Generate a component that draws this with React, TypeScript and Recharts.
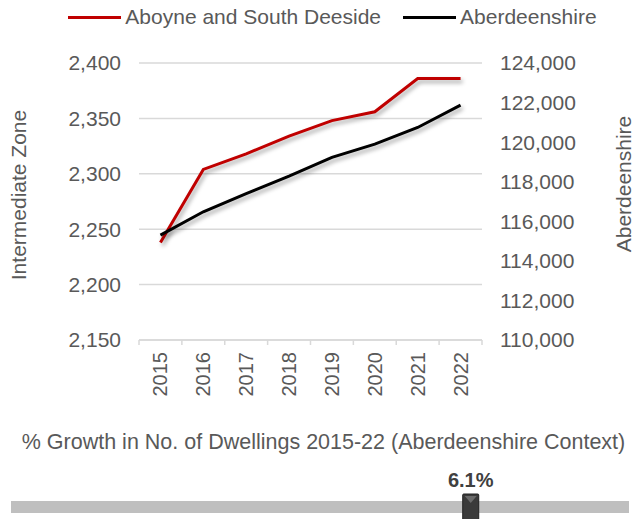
import React from 'react';
import {
  LineChart,
  Line,
  XAxis,
  YAxis,
  CartesianGrid,
  Legend,
  Label,
  ComposedChart,
  Bar,
  ReferenceDot,
} from 'recharts';

const years = ['2015', '2016', '2017', '2018', '2019', '2020', '2021', '2022'];
const aboyneDwellings = [2238, 2304, 2318, 2334, 2348, 2356, 2386, 2386];
const shireDwellings = [115300, 116480, 117400, 118280, 119230, 119900, 120740, 121870];
const leftTicks = [2150, 2200, 2250, 2300, 2350, 2400];
const rightTicks = [110000, 112000, 114000, 116000, 118000, 120000, 122000, 124000];

const growthPct = 6.1;
const gaugeMax = 8.2;

const FONT = '"Liberation Sans", Arial, sans-serif';
const TEXT = '#595959';
const GRID = '#d9d9d9';
const RED = '#c00000';
const HALF_BAND = 21.45;

const data = years.map((year, i) => ({
  year,
  aboyne: aboyneDwellings[i],
  shire: shireDwellings[i],
}));

const gaugeData = [{ name: 'g', v: gaugeMax }];

const shadow = { filter: 'drop-shadow(2px 3px 2px rgba(0,0,0,0.35))' };

// category label plus the little tick marks that sit between categories
function YearTick({ x, y, payload, index, visibleTicksCount }: any) {
  const last = index === visibleTicksCount - 1;
  return (
    <g>
      <line x1={x - HALF_BAND} x2={x - HALF_BAND} y1={y} y2={y + 5} stroke={GRID} strokeWidth={1.5} />
      {last && (
        <line x1={x + HALF_BAND} x2={x + HALF_BAND} y1={y} y2={y + 5} stroke={GRID} strokeWidth={1.5} />
      )}
      <text
        x={x}
        y={y + 12}
        dy="0.35em"
        transform={`rotate(-90 ${x} ${y + 12})`}
        textAnchor="end"
        fill={TEXT}
        fontSize={20}
        fontFamily={FONT}
      >
        {payload.value}
      </text>
    </g>
  );
}

function LegendBox() {
  const items = [
    { name: 'Aboyne and South Deeside', color: RED },
    { name: 'Aberdeenshire', color: '#000000' },
  ];
  return (
    <div
      style={{
        display: 'flex',
        justifyContent: 'center',
        gap: 22,
        paddingLeft: 30,
        boxSizing: 'border-box',
        fontFamily: FONT,
        fontSize: 21,
        color: TEXT,
      }}
    >
      {items.map((it) => (
        <div key={it.name} style={{ display: 'flex', alignItems: 'center', flexShrink: 0 }}>
          <span
            style={{ width: 53, height: 3, background: it.color, marginRight: 4, flexShrink: 0 }}
          />
          <span style={{ whiteSpace: 'nowrap' }}>{it.name}</span>
        </div>
      ))}
    </div>
  );
}

function GaugeMarker({ cx, cy }: any) {
  return (
    <g>
      <text
        x={cx}
        y={cy - 20}
        textAnchor="middle"
        fill="#404040"
        fontSize={20}
        fontWeight="bold"
        fontFamily={FONT}
      >
        {`${growthPct}%`}
      </text>
      <rect x={cx - 8} y={cy - 13} width={16} height={28} fill="#3a3a3a" stroke="#222" strokeWidth={1} rx={1} />
      <path d={`M${cx - 6} ${cy - 11} L${cx + 6} ${cy - 11} L${cx} ${cy - 4} Z`} fill="#6a6a6a" />
    </g>
  );
}

export default function App() {
  return (
    <div
      style={{
        position: 'absolute',
        left: 0,
        top: 0,
        width: 635,
        height: 519,
        overflow: 'hidden',
        background: '#fff',
      }}
    >
      <LineChart width={635} height={420} data={data} margin={{ top: 63, right: 0, left: 0, bottom: 0 }}>
        <CartesianGrid vertical={false} stroke={GRID} strokeWidth={1.5} yAxisId="left" />
        <XAxis
          dataKey="year"
          height={80}
          padding={{ left: HALF_BAND, right: HALF_BAND }}
          axisLine={{ stroke: GRID, strokeWidth: 1.5 }}
          tickLine={false}
          tickSize={0}
          tickMargin={0}
          tick={<YearTick />}
          interval={0}
        />
        <YAxis
          yAxisId="left"
          width={139}
          domain={[2150, 2400]}
          ticks={leftTicks}
          axisLine={false}
          tickLine={false}
          tickMargin={12}
          tickFormatter={(v: number) => v.toLocaleString('en-US')}
          tick={{ fill: TEXT, fontSize: 21, fontFamily: FONT }}
        >
          <Label
            content={() => (
              <text
                x={26}
                y={195}
                transform="rotate(-90 26 195)"
                textAnchor="middle"
                fill={TEXT}
                fontSize={21}
                fontFamily={FONT}
              >
                Intermediate Zone
              </text>
            )}
          />
        </YAxis>
        <YAxis
          yAxisId="right"
          orientation="right"
          width={153}
          domain={[110000, 124000]}
          ticks={rightTicks}
          axisLine={false}
          tickLine={false}
          tickMargin={12}
          tickFormatter={(v: number) => v.toLocaleString('en-US')}
          tick={{ fill: TEXT, fontSize: 21, fontFamily: FONT, textAnchor: 'start' }}
        >
          <Label
            content={() => (
              <text
                x={631}
                y={184}
                transform="rotate(-90 631 184)"
                textAnchor="middle"
                fill={TEXT}
                fontSize={21}
                fontFamily={FONT}
              >
                Aberdeenshire
              </text>
            )}
          />
        </YAxis>
        <Legend
          verticalAlign="middle"
          layout="horizontal"
          content={<LegendBox />}
          wrapperStyle={{ top: 5, left: 0, width: 635 }}
        />
        <Line
          yAxisId="left"
          type="linear"
          dataKey="aboyne"
          name="Aboyne and South Deeside"
          stroke={RED}
          strokeWidth={3}
          dot={false}
          style={shadow}
          isAnimationActive={false}
        />
        <Line
          yAxisId="right"
          type="linear"
          dataKey="shire"
          name="Aberdeenshire"
          stroke="#000000"
          strokeWidth={3}
          dot={false}
          style={shadow}
          isAnimationActive={false}
        />
      </LineChart>
      <div
        style={{
          position: 'absolute',
          top: 430,
          left: 0,
          width: 635,
          textAlign: 'center',
          fontFamily: FONT,
          fontSize: 21.5,
          color: TEXT,
          paddingLeft: 12,
          boxSizing: 'border-box',
          whiteSpace: 'nowrap',
        }}
      >
        % Growth in No. of Dwellings 2015-22 (Aberdeenshire Context)
      </div>
      <div style={{ position: 'absolute', top: 460, left: 0 }}>
        <ComposedChart
          layout="vertical"
          width={635}
          height={64}
          data={gaugeData}
          margin={{ top: 30, right: 6, left: 11, bottom: 0 }}
        >
          <XAxis type="number" domain={[0, gaugeMax]} hide />
          <YAxis type="category" dataKey="name" hide />
          <Bar dataKey="v" fill="#bfbfbf" barSize={12} isAnimationActive={false} />
          <ReferenceDot x={growthPct} y="g" r={0} shape={<GaugeMarker />} />
        </ComposedChart>
      </div>
    </div>
  );
}
